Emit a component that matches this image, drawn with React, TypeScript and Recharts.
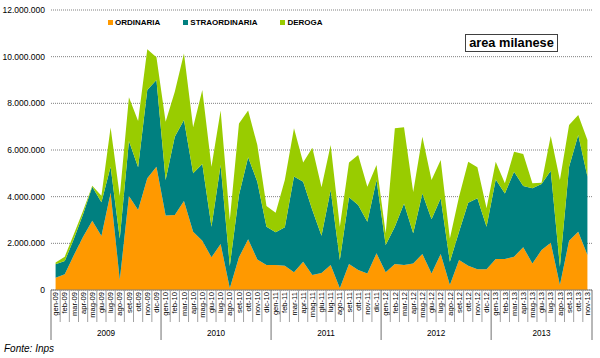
import { Area, AreaChart, CartesianGrid, Legend, XAxis, YAxis } from "recharts";

const MONTH_NAMES = ["gen", "feb", "mar", "apr", "mag", "giu", "lug", "ago", "set", "ott", "nov", "dic"];
const YEARS = ["2009", "2010", "2011", "2012", "2013"];
const MONTH_COUNT = 59; // gen-09 .. nov-13

const ordinaria = [
  520000, 670000, 1500000, 2280000, 2970000, 2310000, 4170000, 430000, 4030000, 3430000, 4790000, 5280000,
  3190000, 3210000, 3810000, 2500000, 2110000, 1400000, 1970000, 70000, 1400000, 2170000, 1310000, 1070000,
  1070000, 1040000, 760000, 1210000, 640000, 730000, 1070000, 70000, 1110000, 860000, 710000, 1570000,
  760000, 1110000, 1070000, 1140000, 1540000, 710000, 1540000, 210000, 1290000, 1040000, 890000, 890000,
  1330000, 1330000, 1430000, 1830000, 1140000, 1710000, 2030000, 210000, 2110000, 2500000, 1500000,
];

const straordinaria = [
  580000, 570000, 700000, 970000, 1460000, 1450000, 1110000, 1780000, 2360000, 1830000, 3780000, 3720000,
  1520000, 3360000, 3480000, 2500000, 3290000, 1310000, 3390000, 960000, 2670000, 3520000, 3330000, 1640000,
  1400000, 1650000, 4100000, 3430000, 2790000, 1600000, 3220000, 1220000, 2860000, 2780000, 2220000, 3140000,
  1170000, 1600000, 2640000, 1290000, 2600000, 2320000, 2390000, 1000000, 1210000, 2700000, 3040000, 1820000,
  3410000, 2810000, 3640000, 2630000, 3220000, 2830000, 3080000, 790000, 3170000, 4140000, 3360000,
];

const deroga = [
  80000, 190000, 200000, 150000, 40000, 280000, 1680000, 1820000, 1870000, 1980000, 1750000, 970000,
  2500000, 1930000, 2850000, 1970000, 3170000, 2570000, 2330000, 1970000, 3070000, 2000000, 1570000, 890000,
  840000, 2020000, 2070000, 820000, 2670000, 2070000, 1920000, 1420000, 1490000, 2150000, 1500000, 650000,
  500000, 4220000, 3260000, 1770000, 2430000, 1680000, 1640000, 1000000, 1500000, 1760000, 1330000, 790000,
  760000, 430000, 860000, 1370000, 210000, 60000, 1490000, 3710000, 1790000, 860000, 1570000,
];

const yTicks = [0, 2000000, 4000000, 6000000, 8000000, 10000000, 12000000];

const SERIES = [
  { key: "ordinaria", label: "ORDINARIA", color: "#FF9900" },
  { key: "straordinaria", label: "STRAORDINARIA", color: "#008080" },
  { key: "deroga", label: "DEROGA", color: "#99CC00" },
];

const months = Array.from({ length: MONTH_COUNT }, (_, i) => {
  const year = YEARS[Math.floor(i / 12)];
  return `${MONTH_NAMES[i % 12]}-${year.slice(2)}`;
});

const data = months.map((month, i) => ({
  month,
  ordinaria: ordinaria[i],
  straordinaria: straordinaria[i],
  deroga: deroga[i],
}));

// year groups -> where to put the label under the months
const yearGroups = YEARS.map((year, y) => {
  const first = y * 12;
  const last = Math.min(first + 11, MONTH_COUNT - 1);
  return { year, first, last, center: (first + last) / 2 };
});

const WIDTH = 600;
const HEIGHT = 358;
const MARGIN = { top: 10, right: 8, left: 5, bottom: 10 };
const Y_AXIS_W = 46;
const PLOT_W = WIDTH - MARGIN.left - MARGIN.right - Y_AXIS_W;
const BAND = PLOT_W / MONTH_COUNT;
const FONT = "'Liberation Sans', Arial, sans-serif";

const formatNumber = (v: number) => String(v).replace(/\B(?=(\d{3})+(?!\d))/g, ".");

function MonthTick(props: any) {
  const { x, y, payload, index } = props;
  const left = x - BAND / 2;
  const right = x + BAND / 2;
  const yearStart = index % 12 === 0;
  const isLast = index === MONTH_COUNT - 1;
  const group = yearGroups.find((g) => Math.floor(g.center) === index);

  return (
    <g>
      <line x1={left} x2={left} y1={y} y2={y + (yearStart ? 50 : 32)} stroke={yearStart ? "#707070" : "#a0a0a0"} />
      {isLast && <line x1={right} x2={right} y1={y} y2={y + 50} stroke="#707070" />}
      <text
        x={x}
        y={y + 2}
        dy="0.35em"
        transform={`rotate(-90 ${x} ${y + 2})`}
        textAnchor="end"
        fontSize={7.6}
        fill="#000"
        fontFamily={FONT}
      >
        {payload.value}
      </text>
      {group && (
        <text
          x={x + (group.center - Math.floor(group.center)) * BAND}
          y={y + 46}
          textAnchor="middle"
          fontSize={8.2}
          fill="#000"
          fontFamily={FONT}
        >
          {group.year}
        </text>
      )}
    </g>
  );
}

function LegendContent() {
  return (
    <div style={{ display: "flex", fontFamily: FONT, fontSize: 8, fontWeight: "bold", color: "#000" }}>
      {SERIES.map((s) => (
        <div key={s.key} style={{ display: "flex", alignItems: "center", marginRight: 23 }}>
          <span style={{ width: 5, height: 5, background: s.color, marginRight: 2, display: "inline-block" }} />
          <span>{s.label}</span>
        </div>
      ))}
    </div>
  );
}

export default function App() {
  return (
    <div
      style={{
        position: "absolute",
        left: 0,
        top: 0,
        width: WIDTH,
        height: HEIGHT,
        background: "#fff",
        fontFamily: FONT,
      }}
    >
      <AreaChart width={WIDTH} height={HEIGHT} data={data} margin={MARGIN}>
        <CartesianGrid vertical={false} stroke="#808080" strokeDasharray="1 1" />
        <XAxis
          dataKey="month"
          interval={0}
          tickSize={0}
          tickMargin={0}
          height={58}
          padding={{ left: BAND / 2, right: BAND / 2 }}
          axisLine={{ stroke: "#808080" }}
          tickLine={false}
          tick={<MonthTick />}
        />
        <YAxis
          width={Y_AXIS_W}
          domain={[0, 12000000]}
          ticks={yTicks}
          axisLine={false}
          tickLine={false}
          tickSize={0}
          tickMargin={6}
          tick={{ fontSize: 8.5, fill: "#000", fontFamily: FONT }}
          tickFormatter={formatNumber}
        />
        <Legend
          layout="horizontal"
          verticalAlign="middle"
          align="center"
          content={<LegendContent />}
          wrapperStyle={{ top: 18, left: 108, width: "auto" }}
        />
        {SERIES.map((s) => (
          <Area
            key={s.key}
            type="linear"
            dataKey={s.key}
            name={s.label}
            stackId="1"
            stroke="none"
            fill={s.color}
            fillOpacity={1}
            isAnimationActive={false}
          />
        ))}
      </AreaChart>
      <div
        style={{
          position: "absolute",
          left: 465,
          top: 34,
          width: 91,
          height: 16,
          border: "1px solid #404040",
          fontSize: 12.8,
          fontWeight: "bold",
          lineHeight: "16px",
          textAlign: "center",
          color: "#000",
        }}
      >
        area milanese
      </div>
      <div style={{ position: "absolute", left: 4, top: 343, fontSize: 10, fontStyle: "italic", color: "#000" }}>
        Fonte: Inps
      </div>
    </div>
  );
}
